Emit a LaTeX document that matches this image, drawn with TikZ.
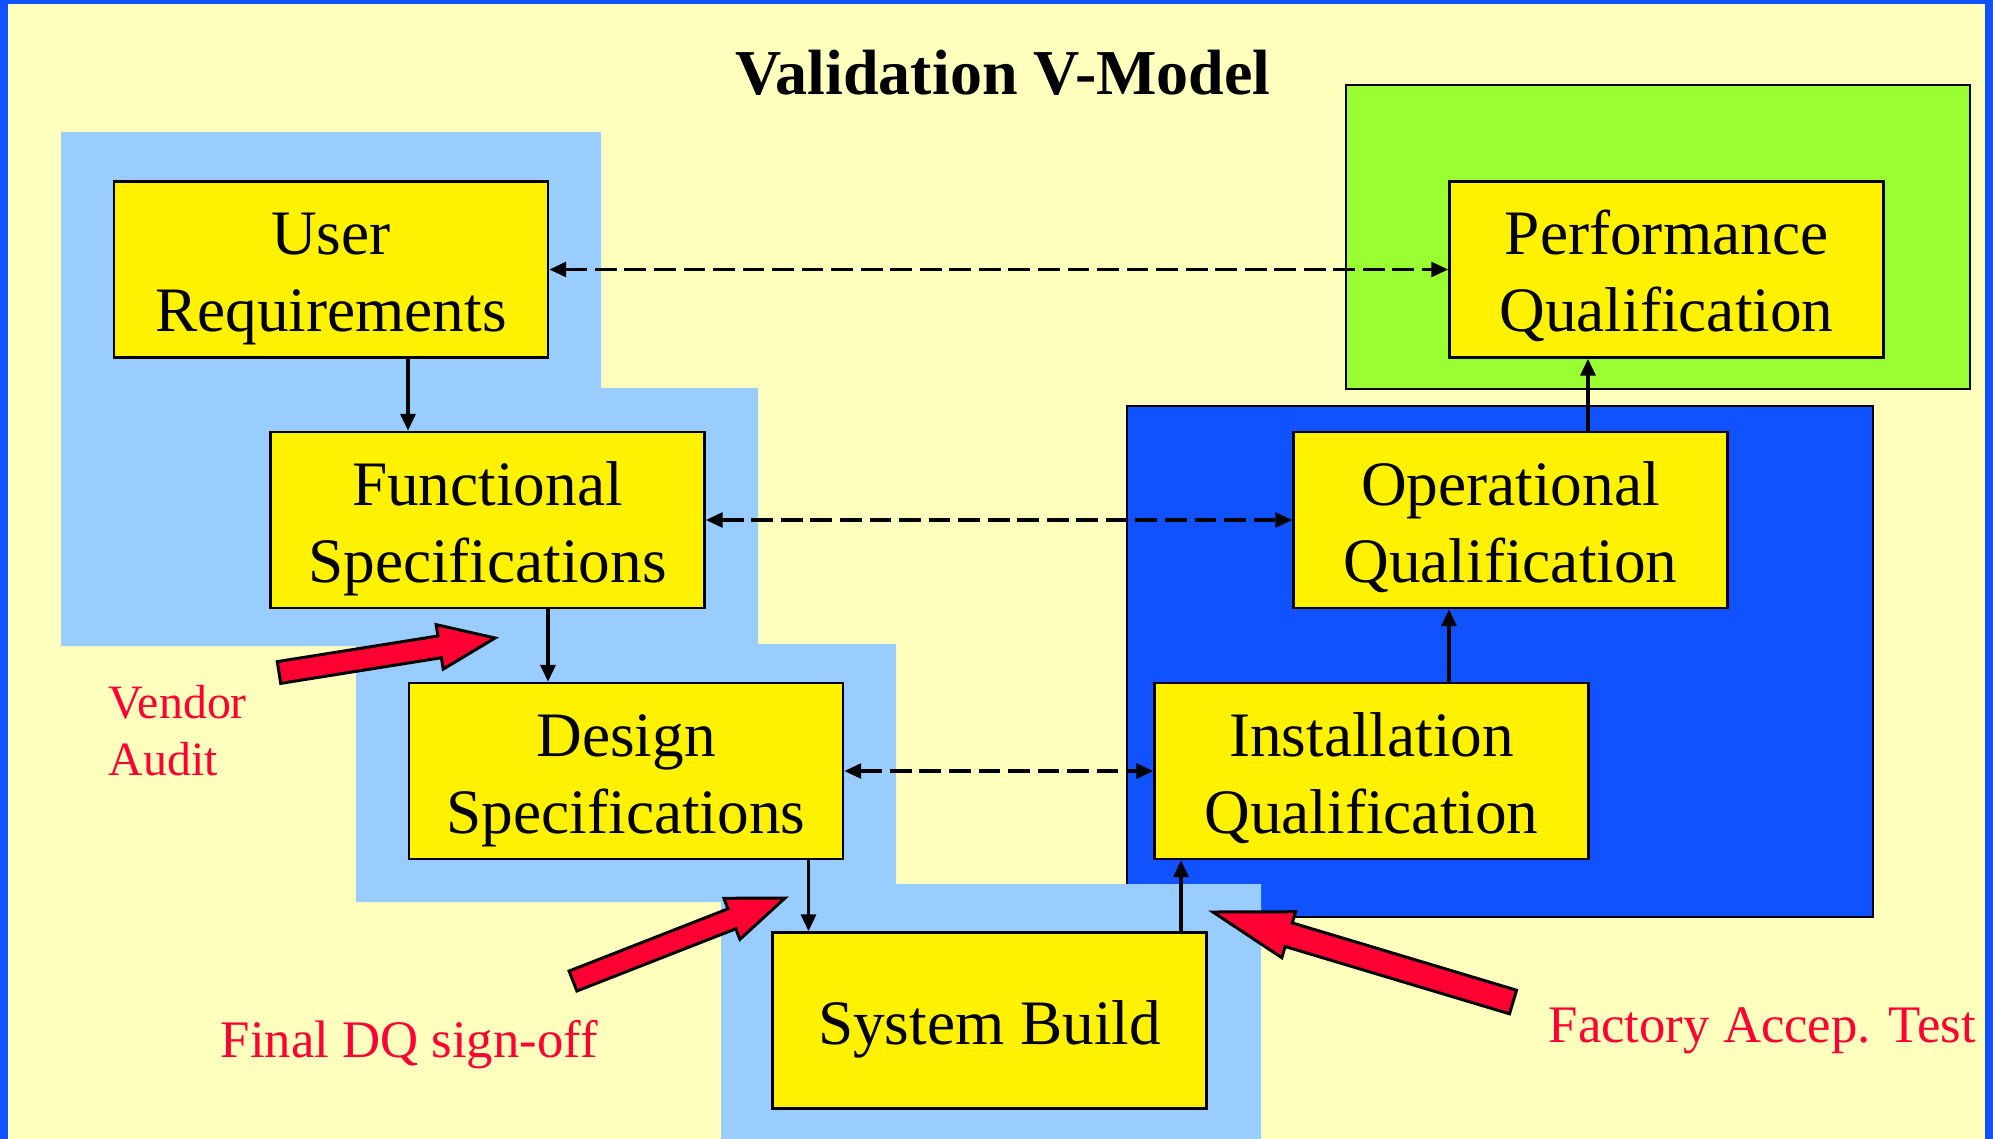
\documentclass[tikz,border=0pt]{standalone}
\usepackage{fontspec}
\setmainfont{Liberation Serif}
\usetikzlibrary{arrows.meta,calc}

\definecolor{frameblue}{RGB}{17,82,255}
\definecolor{paper}{RGB}{255,255,190}
\definecolor{skyblue}{RGB}{153,204,255}
\definecolor{limegreen}{RGB}{153,255,51}
\definecolor{alertred}{RGB}{255,0,51}

% two centred lines with fixed line boxes
\newcommand\twoline[2]{\rule{0pt}{0.97em}#1\\#2\rule[-0.22em]{0pt}{0pt}}
% block arrow: tail, tip, half shaft width, half head width, head length
\newcommand\blockarrow[5]{%
  \path ($(#2)!#5!(#1)$) coordinate (ba-base);
  \draw[redarrow] ($(#1)!#3!90:(#2)$) -- ($(ba-base)!#3!90:(#2)$)
    -- ($(ba-base)!#4!90:(#2)$) -- (#2) -- ($(ba-base)!#4!-90:(#2)$)
    -- ($(ba-base)!#3!-90:(#2)$) -- ($(#1)!#3!-90:(#2)$) -- cycle;}

\tikzset{vtip/.tip={Triangle[length=4.8pt,width=4.2pt]}}

\begin{document}
\begin{tikzpicture}[x=0.01cm,y=-0.01cm,
  stage/.style={draw=black, line width=0.65pt, fill=yellow,
    minimum width=4.34cm, minimum height=1.76cm, inner sep=0pt,
    align=center, font=\fontsize{18}{21.9}\selectfont},
  flow/.style={line width=1pt, -vtip},
  trace/.style={line width=0.9pt, dash pattern=on 6.2pt off 2.2pt, vtip-vtip},
  redarrow/.style={fill=alertred, draw=black, line width=0.85pt, line join=miter},
  note/.style={text=alertred, inner sep=0pt, anchor=base west},
  panel/.style={draw=black, line width=0.65pt}]

\useasboundingbox (0,0) rectangle (1993,1139);

% frame and paper
\fill[frameblue] (0,0) rectangle (1993,1139);
\fill[paper] (8,4) rectangle (1985,1139);

% phase panels
\draw[panel, fill=limegreen] (1346,85) rectangle (1970,389);
\draw[panel, fill=frameblue] (1127,406) rectangle (1873,917);
\fill[skyblue] (61,132) -- (601,132) -- (601,388) -- (758,388) -- (758,644)
  -- (896,644) -- (896,884) -- (1261,884) -- (1261,1139) -- (721,1139)
  -- (721,902) -- (356,902) -- (356,646) -- (61,646) -- cycle;

% title
\node[anchor=base, inner sep=0pt, font=\fontsize{18.2}{22}\selectfont\bfseries]
  (title) at (1003,94) {Validation V-Model};

% stages
\node[stage] (ur) at (331,269.5)  {\twoline{User}{Requirements}};
\node[stage] (fs) at (487.5,520)  {\twoline{Functional}{Specifications}};
\node[stage] (ds) at (626,771)    {\twoline{Design}{Specifications}};
\node[stage] (sb) at (989.5,1020.5) {\rule{0pt}{0.97em}System Build\rule[-0.22em]{0pt}{0pt}};
\node[stage] (iq) at (1371.5,771) {\twoline{Installation}{Qualification}};
\node[stage] (oq) at (1510.5,520) {\twoline{Operational}{Qualification}};
\node[stage] (pq) at (1666.5,269.5) {\twoline{Performance}{Qualification}};

% columns of the vertical connectors
\coordinate (c1) at (408,0);
\coordinate (c2) at (548,0);
\coordinate (c3) at (808.5,0);
\coordinate (c4) at (1181,0);
\coordinate (c5) at (1449,0);
\coordinate (c6) at (1588,0);

\draw[flow] (ur.south -| c1) -- (fs.north -| c1);
\draw[flow] (fs.south -| c2) -- (ds.north -| c2);
\draw[flow] (ds.south -| c3) -- (sb.north -| c3);
\draw[flow] (sb.north -| c4) -- (iq.south -| c4);
\draw[flow] (iq.north -| c5) -- (oq.south -| c5);
\draw[flow] (oq.north -| c6) -- (pq.south -| c6);

% verification links
\draw[trace] (ur.east) -- (pq.west);
\draw[trace] (fs.east) -- (oq.west);
\draw[trace] (ds.east) -- (iq.west);

% milestone arrows
\coordinate (va-tail) at (279,672.5);
\coordinate (va-tip)  at (495,638);
\coordinate (dq-tail) at (573,981);
\coordinate (dq-tip)  at (785,898);
\coordinate (fa-tail) at (1513,1002);
\coordinate (fa-tip)  at (1213,912);
\blockarrow{va-tail}{va-tip}{0.11cm}{0.225cm}{0.56cm}
\blockarrow{dq-tail}{dq-tip}{0.107cm}{0.22cm}{0.57cm}
\blockarrow{fa-tail}{fa-tip}{0.123cm}{0.24cm}{0.79cm}

% milestone labels
\node[note, font=\fontsize{13.6}{16}\selectfont] (vendor) at (108,718) {Vendor};
\node[note, font=\fontsize{13.6}{16}\selectfont] (audit) at (108,775) {Audit};
\node[note, font=\fontsize{15}{18}\selectfont] (dq) at (220,1057) {Final DQ sign-off};
\node[note, font=\fontsize{15}{18}\selectfont] (fat) at (1548,1042) {Factory Accep. Test};
\end{tikzpicture}
\end{document}
